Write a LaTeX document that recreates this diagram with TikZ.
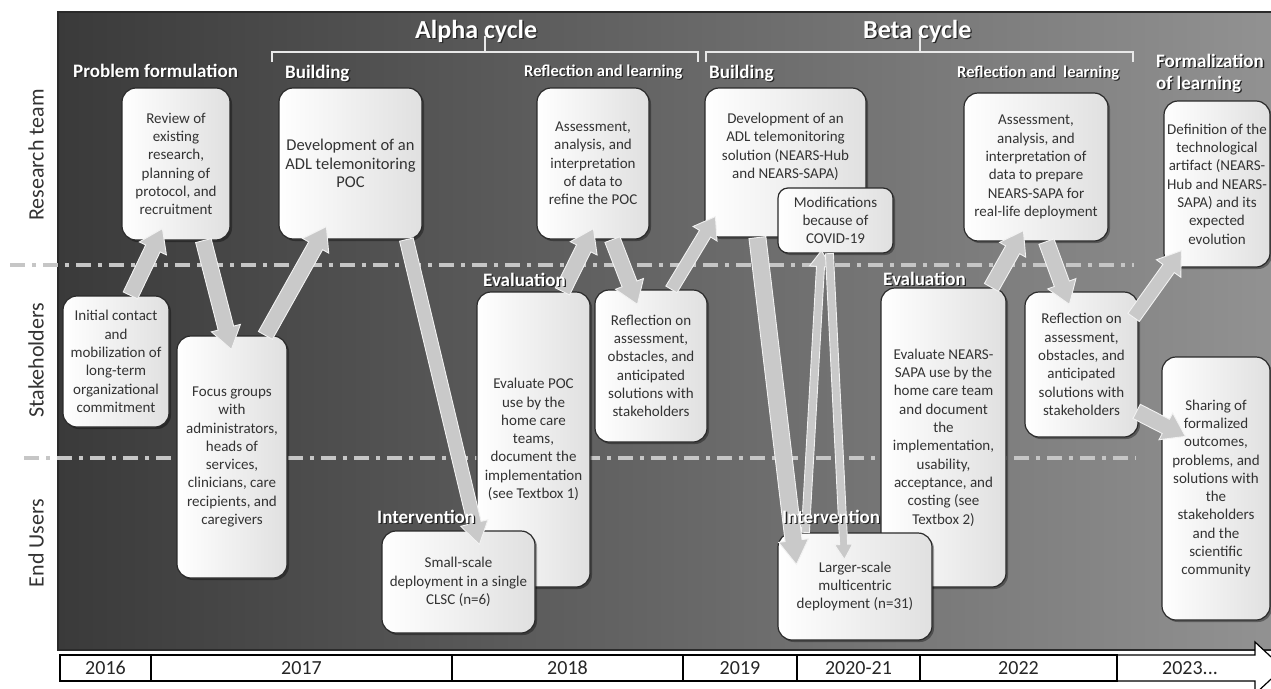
\documentclass[tikz,border=0pt]{standalone}
\usepackage{fontspec}
\setmainfont{Carlito}
\usetikzlibrary{calc,shadows}
\definecolor{bgL}{HTML}{3A3A3A}
\definecolor{bgR}{HTML}{929292}
\definecolor{boxedge}{HTML}{2A2A2A}
\definecolor{boxR}{HTML}{E0E0E0}
\definecolor{txt}{HTML}{333333}
\definecolor{arrfill}{HTML}{C9C9C9}
\definecolor{arredge}{HTML}{F2F2F2}
\definecolor{dashc}{HTML}{C6C6C6}
\definecolor{brk}{HTML}{E8E8E8}
\newcommand{\shd}[1]{\rlap{\kern1.3pt\raisebox{-1.3pt}{\color{black!85}#1}}#1}
\newcommand{\barr}[5]{%
  \coordinate (baC) at ($(#5)!#3!(#4)$);
  \filldraw[blockarrow] ($(#4)!#1!90:(#5)$) -- ($(baC)!#1!90:(#5)$) -- ($(baC)!#2!90:(#5)$) -- (#5) -- ($(baC)!#2!-90:(#5)$) -- ($(baC)!#1!-90:(#5)$) -- ($(#4)!#1!-90:(#5)$) -- cycle;
}
\tikzset{
  box/.style={draw=boxedge, line width=1.2pt, rounded corners=14pt, left color=white, right color=boxR,
    text=txt, align=center, inner sep=0pt, font=\fontsize{15}{18.3}\selectfont,
    drop shadow={shadow xshift=2pt, shadow yshift=-2pt, opacity=0.35, fill=black}},
  hdr/.style={text=white, inner sep=0pt, anchor=base west, font=\fontsize{19}{22}\selectfont\bfseries},
  lane/.style={rotate=90, text=txt, inner sep=0pt, font=\fontsize{22}{26}\selectfont},
  yr/.style={draw=black, line width=1.2pt, minimum height=26pt, inner sep=0pt, text=black!85, font=\fontsize{20}{24}\selectfont},
  blockarrow/.style={fill=arrfill, draw=arredge, line width=0.9pt, line join=miter},
  dashdot/.style={draw=dashc, line width=3.5pt, dash pattern=on 15pt off 7pt on 4pt off 7pt},
  bracket/.style={draw=brk, line width=1.8pt},
}
\begin{document}
\begin{tikzpicture}[x=1pt,y=-1pt]
\useasboundingbox (0,0) rectangle (1271,688);
% panel
\shade[left color=bgL, right color=bgR] (58,12) rectangle (1276,650);
\draw[boxedge, line width=1.5pt] (1276,12) -- (58,12) -- (58,650) -- (1276,650);
% lane separators
\draw[dashdot] (10,265) -- (1134,265);
\draw[dashdot] (24,458) -- (1136,458);
% brackets
\draw[bracket] (272,62) -- (272,52) -- (698,52) -- (698,62);
\draw[bracket] (485,52) -- (485,36);
\draw[bracket] (706,62) -- (706,52) -- (1133,52) -- (1133,62);
\draw[bracket] (920,52) -- (920,36);
% lane labels
\node[lane] (lres) at (36,155) {Research team};
\node[lane] (lstk) at (36,360) {Stakeholders};
\node[lane] (lend) at (36,543) {End Users};
% boxes
\node[box, minimum width=108pt, minimum height=152pt] (rev) at (176,164) {Review of\\existing\\research,\\planning of\\protocol, and\\recruitment};
\node[box, minimum width=143pt, minimum height=151pt, font=\fontsize{16.5}{18.5}\selectfont] (dpoc) at (350.5,163.5) {Development of an\\ADL telemonitoring\\POC};
\node[box, minimum width=112pt, minimum height=151pt] (apoc) at (593,163.5) {Assessment,\\analysis, and\\interpretation\\of data to\\refine the POC};
\node[box, minimum width=161pt, minimum height=149pt] (dsol) at (785.5,162.5) {\parbox[c][149pt][t]{161pt}{\centering\vspace*{25pt}Development of an\\ADL telemonitoring\\solution (NEARS-Hub\\and NEARS-SAPA)}};
\node[box, rounded corners=10pt, minimum width=115pt, minimum height=65pt] (covid) at (835.5,220.5) {Modifications\\because of\\COVID-19};
\node[box, minimum width=144pt, minimum height=148pt] (abeta) at (1036,167) {Assessment,\\analysis, and\\interpretation of\\data to prepare\\NEARS-SAPA for\\real-life deployment};
\node[box, minimum width=106pt, minimum height=166pt] (defn) at (1217,184) {Definition of the\\technological\\artifact (NEARS-\\Hub and NEARS-\\SAPA) and its\\expected\\evolution};
\node[box, minimum width=106pt, minimum height=131pt] (init) at (116,361.5) {Initial contact\\and\\mobilization of\\long-term\\organizational\\commitment};
\node[box, minimum width=110pt, minimum height=242pt] (focus) at (232,457) {Focus groups\\with\\administrators,\\heads of\\services,\\clinicians, care\\recipients, and\\caregivers};
\node[box, minimum width=113pt, minimum height=295pt] (epoc) at (533.5,439.5) {Evaluate POC\\use by the\\home care\\teams,\\document the\\implementation\\(see Textbox 1)};
\node[box, minimum width=112pt, minimum height=152pt] (ralpha) at (651,366) {Reflection on\\assessment,\\obstacles, and\\anticipated\\solutions with\\stakeholders};
\node[box, minimum width=153pt, minimum height=102pt] (small) at (458.5,582) {Small-scale\\deployment in a single\\CLSC (n=6)};
\node[box, minimum width=125pt, minimum height=299pt] (enears) at (943.5,437.5) {Evaluate NEARS-\\SAPA use by the\\home care team\\and document\\the\\implementation,\\usability,\\acceptance, and\\costing (see\\Textbox 2)};
\node[box, minimum width=154pt, minimum height=107pt] (larger) at (855,586.5) {Larger-scale\\multicentric\\deployment (n=31)};
\node[box, minimum width=113pt, minimum height=145pt] (rbeta) at (1081.5,364.5) {Reflection on\\assessment,\\obstacles, and\\anticipated\\solutions with\\stakeholders};
\node[box, minimum width=108pt, minimum height=263pt] (share) at (1216,488.5) {Sharing of\\formalized\\outcomes,\\problems, and\\solutions with\\the\\stakeholders\\and the\\scientific\\community};
% arrow end points
\coordinate (s1) at ($(init.north west)+(68,0)$);   \coordinate (e1) at ($(rev.south west)+(41,-12)$);
\coordinate (s2) at ($(rev.south west)+(82,0)$);    \coordinate (e2) at ($(focus.north west)+(55,14)$);
\coordinate (s3) at ($(focus.north west)+(89,0)$);  \coordinate (e3) at ($(dpoc.south west)+(48,-13)$);
\coordinate (s4) at ($(dpoc.south west)+(128,0)$);  \coordinate (e4) at ($(small.north west)+(98,14)$);
\coordinate (s5) at ($(epoc.north west)+(86,0)$);   \coordinate (e5) at ($(apoc.south west)+(57,-11)$);
\coordinate (s6) at ($(apoc.south west)+(76,0)$);   \coordinate (e6) at ($(ralpha.north west)+(43,15)$);
\coordinate (s7) at ($(ralpha.north west)+(77,0)$); \coordinate (e7) at ($(dsol.south west)+(11,-21)$);
\coordinate (s8) at ($(dsol.south west)+(53,0)$);   \coordinate (e8) at ($(larger.north west)+(19,32)$);
\coordinate (s9) at ($(larger.north west)+(28,0)$); \coordinate (e9) at ($(covid.south west)+(44,-3)$);
\coordinate (s10) at ($(covid.south west)+(52,0)$); \coordinate (e10) at ($(larger.north west)+(67,27)$);
\coordinate (s11) at ($(enears.north west)+(111,0)$); \coordinate (e11) at ($(abeta.south west)+(60,-11)$);
\coordinate (s12) at ($(abeta.south west)+(83,0)$); \coordinate (e12) at ($(rbeta.north west)+(45,13)$);
\coordinate (s13) at ($(rbeta.north east)+(-5,26)$); \coordinate (e13) at ($(defn.south west)+(18,-17)$);
\coordinate (s14) at ($(rbeta.north east)+(-2,120)$); \coordinate (e14) at ($(share.north west)+(24,80)$);
% arrows
\barr{8pt}{15pt}{22pt}{s1}{e1}
\barr{8pt}{15pt}{22pt}{s2}{e2}
\barr{8pt}{15pt}{22pt}{s3}{e3}
\barr{7pt}{14pt}{22pt}{s4}{e4}
\barr{8pt}{15pt}{22pt}{s5}{e5}
\barr{8pt}{15pt}{22pt}{s6}{e6}
\barr{6.5pt}{14pt}{20pt}{s7}{e7}
\barr{8.5pt}{15pt}{24pt}{s8}{e8}
\barr{4pt}{11pt}{16pt}{s9}{e9}
\barr{4pt}{9pt}{15pt}{s10}{e10}
\barr{8pt}{15pt}{22pt}{s11}{e11}
\barr{8pt}{15pt}{22pt}{s12}{e12}
\barr{7pt}{15pt}{22pt}{s13}{e13}
\barr{8pt}{15pt}{22pt}{s14}{e14}
% headers
\node[hdr, font=\fontsize{26}{30}\selectfont\bfseries] (halpha) at (415,38) {\shd{Alpha cycle}};
\node[hdr, font=\fontsize{26}{30}\selectfont\bfseries] (hbeta) at (863,38) {\shd{Beta cycle}};
\node[hdr] (hpf) at (73,77) {\shd{Problem formulation}};
\node[hdr] (hb1) at (285,78) {\shd{Building}};
\node[hdr, font=\fontsize{16.5}{20}\selectfont\bfseries] (hrl1) at (524,76.5) {\shd{Reflection and learning}};
\node[hdr] (hb2) at (709,78) {\shd{Building}};
\node[hdr, font=\fontsize{16.5}{20}\selectfont\bfseries] (hrl2) at (957,77) {\shd{Reflection and~ learning}};
\node[hdr, anchor=north west, align=left, font=\fontsize{19}{22}\selectfont\bfseries] (hfl) at (1156,54) {\shd{Formalization}\\\shd{of learning}};
\node[hdr] (hev1) at (483,286.5) {\shd{Evaluation}};
\node[hdr] (hev2) at (883,285) {\shd{Evaluation}};
\node[hdr] (hin1) at (377,523) {\shd{Intervention}};
\node[hdr] (hin2) at (782,523) {\shd{Intervention}};
% timeline
\draw[line width=1.2pt, fill=white] (60,655) -- (1255,655) -- (1255,642) -- (1283,668) -- (1255,694) -- (1255,681) -- (60,681) -- cycle;
\node[yr, minimum width=91pt] (y16) at (105.5,668) {2016};
\node[yr, minimum width=301pt] (y17) at (301.5,668) {2017};
\node[yr, minimum width=231pt] (y18) at (567.5,668) {2018};
\node[yr, minimum width=114pt] (y19) at (740,668) {2019};
\node[yr, minimum width=123pt] (y20) at (858.5,668) {2020-21};
\node[yr, minimum width=197pt] (y22) at (1018.5,668) {2022};
\node[yr, draw=none, minimum width=138pt] (y23) at (1190,668) {2023...};
\end{tikzpicture}
\end{document}
